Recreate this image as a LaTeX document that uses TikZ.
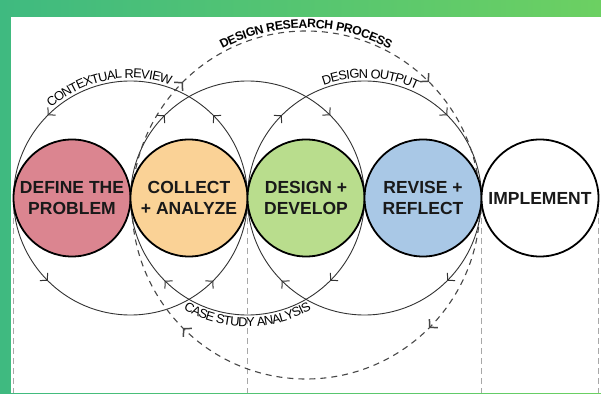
\documentclass[tikz,border=0pt]{standalone}
\usepackage{fontspec}
\setmainfont{Liberation Sans}
\usetikzlibrary{arrows.meta,decorations.markings,decorations.text}

\definecolor{frameA}{HTML}{3FBA80}
\definecolor{frameB}{HTML}{6CD062}
\definecolor{defc}{HTML}{DB8590}
\definecolor{colc}{HTML}{FAD296}
\definecolor{desc}{HTML}{B9DD8D}
\definecolor{revc}{HTML}{A9C8E6}
\definecolor{linec}{HTML}{333333}
\definecolor{sepc}{HTML}{A8A8A8}

\newcommand\arclabelfont{\fontsize{12.8}{14}\selectfont}
\newcommand\titlearcfont{\bfseries\fontsize{12.2}{14}\selectfont}

\tikzset{
  flowtip/.tip={Straight Barb[length=5pt,width=11pt,line width=1pt]},
  outertip/.tip={Straight Barb[length=5.5pt,width=12pt,line width=1.5pt]},
  stage/.style={circle, draw=black, line width=1.8pt, minimum size=117pt,
    inner sep=0pt, align=center, text=black!90,
    font=\fontsize{17.5}{21}\selectfont\bfseries},
  loopline/.style={draw=linec, line width=0.9pt, postaction={decorate},
    decoration={markings,
      mark=between positions 0.125 and 0.875 step 0.25 with {\arrow{flowtip}}}},
  outerloop/.style={draw=linec!90, line width=1.1pt, dash pattern=on 6pt off 5pt,
    postaction={decorate},
    decoration={markings,
      mark=between positions 0.125 and 0.875 step 0.25 with
        {\pgfsetdash{}{0pt}\arrow{outertip}}}},
  separator/.style={draw=sepc, line width=0.9pt, dash pattern=on 6pt off 4pt},
  phase/.style={anchor=base, text=gray!60, font=\fontsize{11.4}{13}\selectfont},
}

\begin{document}
\begin{tikzpicture}[x=1pt,y=1pt]
  \useasboundingbox (0,0) rectangle (601,393);

  % green frame
  \shade[left color=frameA, right color=frameB] (0,0) rectangle (601,393);
  \fill[white] (11,0) rectangle (601,376);

  % centres of the loops
  \coordinate (Ac) at (130.5,195);
  \coordinate (Bc) at (247.5,195);
  \coordinate (Cc) at (364.5,195);
  \coordinate (Oc) at (306,188);

  % phase separators
  \foreach \x/\n in {13.5/s1, 247.5/s2, 481.5/s3, 598.5/s4} {
    \coordinate (\n top) at (\x,195);
    \coordinate (\n bot) at (\x,0);
    \draw[separator] (\n top) -- (\n bot);
  }

  % iteration loops
  \draw[loopline] (Ac) ++(0:117) arc[start angle=0, end angle=360, radius=117];
  \draw[loopline] (Bc) ++(0:117) arc[start angle=0, end angle=-360, radius=117];
  \draw[loopline] (Cc) ++(0:117) arc[start angle=0, end angle=-360, radius=117];

  % overall process loop
  \draw[outerloop] (Oc) ++(0:174) arc[start angle=0, end angle=-360, radius=174];

  % stages
  \node[stage, fill=defc] (define)    at (72,195)  {DEFINE THE\\PROBLEM};
  \node[stage, fill=colc] (collect)   at (189,195) {COLLECT\\+ ANALYZE};
  \node[stage, fill=desc] (design)    at (306,195) {DESIGN +\\DEVELOP};
  \node[stage, fill=revc] (revise)    at (423,195) {REVISE +\\REFLECT};
  \node[stage, fill=white] (implement) at (540,195) {IMPLEMENT};

  % loop labels: each guide arc is a little wider than the line it labels,
  % and the raise pulls the letters back onto it, which sets them closer
  \path[decorate, decoration={text along path, text align=center, raise=-13pt,
      text={|\arclabelfont|CONTEXTUAL REVIEW}}]
    (Ac) ++(151:133) arc[start angle=151, end angle=51, radius=133];
  \path[decorate, decoration={text along path, text align=center, raise=-13pt,
      text={|\arclabelfont|DESIGN OUTPUT}}]
    (Cc) ++(137:133) arc[start angle=137, end angle=37, radius=133];
  \path[decorate, decoration={text along path, text align=center, raise=14.3pt,
      text={|\arclabelfont|CASE STUDY ANALYSIS}}]
    (Bc) ++(210:142.8) arc[start angle=210, end angle=330, radius=142.8];
  \path[decorate, decoration={text along path, text align=center, raise=-8pt,
      text={|\titlearcfont|DESIGN RESEARCH PROCESS}}]
    (Oc) ++(140:185) arc[start angle=140, end angle=40, radius=185];

  % phase names
  \node[phase] (rfd) at (130.5,-9) {RESEARCH FOR DESIGN};
  \node[phase] (rtd) at (364.5,-9) {RESEARCH THROUGH DESIGN};
  \node[phase] (prc) at (540,-9)   {PRACTICE};
\end{tikzpicture}
\end{document}
